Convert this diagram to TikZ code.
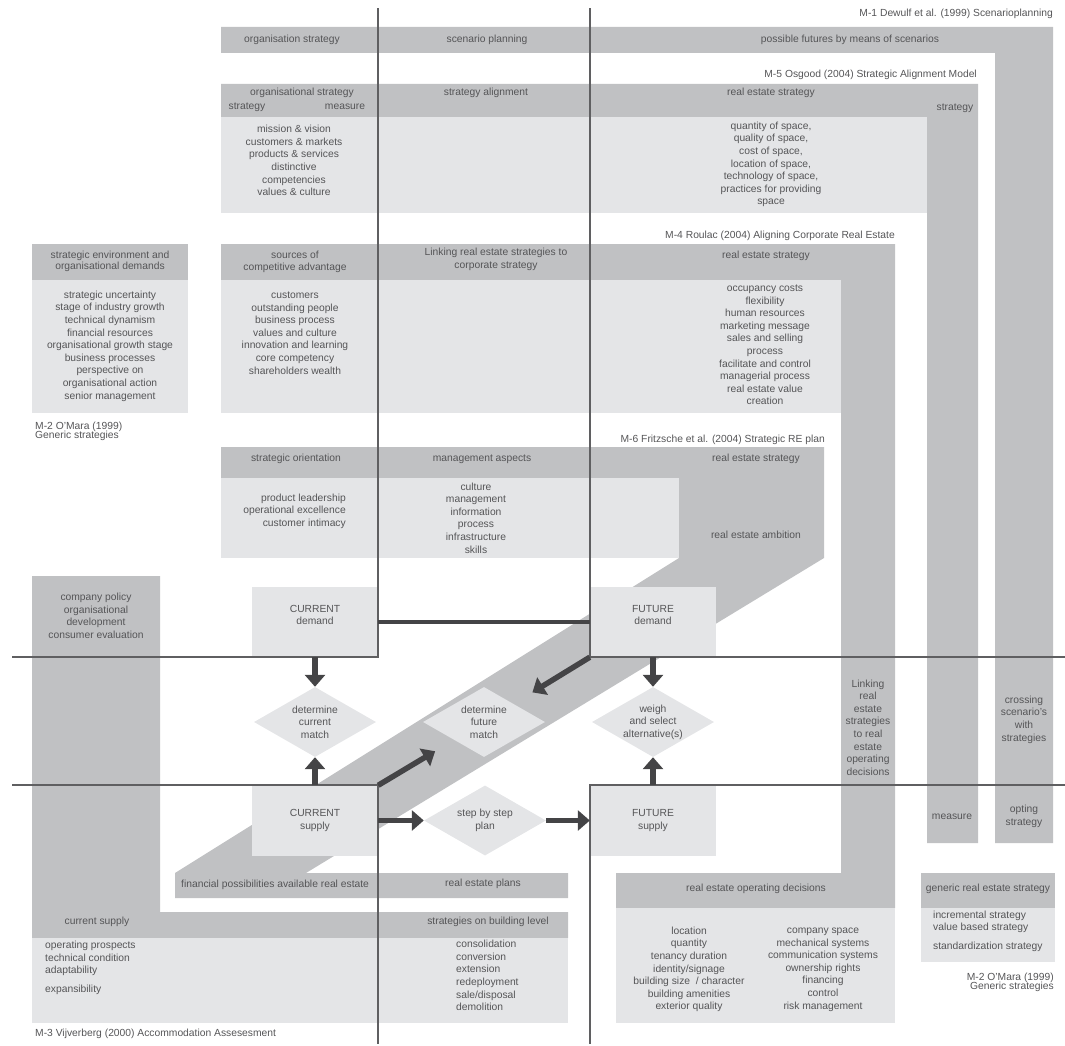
\documentclass[tikz,border=0pt]{standalone}
\usepackage{fontspec}
\setmainfont{Liberation Sans}
\usepackage{tikz}
\usetikzlibrary{arrows.meta,shapes.geometric,positioning}
\definecolor{bandgrey}{RGB}{192,193,195}
\definecolor{panegrey}{RGB}{228,229,231}
\definecolor{inkgrey}{RGB}{85,85,87}
\definecolor{rulegrey}{RGB}{95,95,97}
\definecolor{arrowgrey}{RGB}{68,68,70}
\newcommand{\citefont}{\fontsize{10.3}{9}\selectfont\lineskiplimit -6pt\relax}

\begin{document}
\begin{tikzpicture}[x=1pt, y=-1pt, band/.style={fill=bandgrey}, pane/.style={fill=panegrey},
        txt/.style={text=inkgrey, inner sep=0pt, align=center, font=\fontsize{10.3}{12.6}\selectfont},
        snug/.style={txt, font=\fontsize{10.3}{10.8}\selectfont},
        cite/.style={txt, align=left, font=\citefont},
        box/.style={txt, fill=panegrey, minimum width=126pt, minimum height=70pt},
        demandbox/.style={box, text depth=14pt},
        decide/.style={txt, diamond, aspect=1.74, fill=panegrey, minimum width=122pt, minimum height=70pt},
        divider/.style={draw=rulegrey, line width=1.2pt},
        link/.style={draw=arrowgrey, line width=4.5pt},
        flow/.style={draw=arrowgrey, line width=5.5pt, -{Triangle[width=20pt,length=12pt]}}]

        \useasboundingbox (0,0) rectangle (1065,1046);

        \fill[band] (221,27) -- (1053,27) -- (1053,843) -- (995,843) -- (995,53) -- (221,53) -- cycle;
        \fill[band] (221,84) -- (978,84) -- (978,843) -- (927,843) -- (927,117) -- (221,117) -- cycle;
        \fill[pane] (221,117) rectangle (927,213);
        \fill[band] (221,244) -- (895,244) -- (895,908) -- (616,908) -- (616,873) -- (841,873) -- (841,280) -- (221,280) -- cycle;
        \fill[pane] (221,280) rectangle (841,413);
        \fill[pane] (616,908) rectangle (895,1023);
        \fill[band] (32,244) rectangle (188,280);
        \fill[pane] (32,280) rectangle (188,413);
        \fill[band] (921,873) rectangle (1055,908);
        \fill[pane] (921,908) rectangle (1055,962);
        \fill[band] (221,447) -- (824,447) -- (824,558) -- (306,873) -- (568,873) -- (568,898) -- (175,898)
            -- (175,873) -- (679,558) -- (679,478) -- (221,478) -- cycle;
        \fill[pane] (221,478) rectangle (679,558);
        \fill[band] (32,576) -- (160,576) -- (160,912) -- (568,912) -- (568,938) -- (32,938) -- cycle;
        \fill[pane] (32,938) rectangle (568,1023);

        \node[demandbox] (curdem) at (315,622) {CURRENT\\demand};
        \node[demandbox] (futdem) at (653,622) {FUTURE\\demand};
        \node[box] (cursup) at (315,820.5) {CURRENT\\supply};
        \node[box] (futsup) at (653,820.5) {FUTURE\\supply};
        \node[decide] (curmatch) at (315,722) {determine\\current\\match};
        \node[decide] (futmatch) at (484,722) {determine\\future\\match};
        \node[decide] (weigh) at (653,722) {weigh\\and select\\alternative(s)};
        \node[decide] (stepplan) at (485,820.5) {step by step\\plan};

        \draw[divider] (12,657) -- (378,657) -- (378,8);
        \draw[divider] (1065,657) -- (590,657) -- (590,8);
        \draw[divider] (12,785) -- (378,785) -- (378,1044);
        \draw[divider] (1065,785) -- (590,785) -- (590,1044);

        \draw[link] (curdem) -- (futdem);
        \draw[flow] (curdem) -- (curmatch);
        \draw[flow] (cursup) -- (curmatch);
        \draw[flow] (futdem) -- (weigh);
        \draw[flow] (futsup) -- (weigh);
        \draw[flow] (cursup) -- (stepplan);
        \draw[flow] (stepplan) -- (futsup);
        \draw[flow, shorten >=22pt] (cursup.north east) -- (futmatch);
        \draw[flow, shorten >=22pt] (futdem.south west) -- (futmatch);

        \node[txt, anchor=east] (dewulf) at (1053,14) {M-1 Dewulf et al. (1999) Scenarioplanning};
        \node[txt] (orgstrat) at (292,40) {organisation strategy};
        \node[txt] (scenplan) at (487,40) {scenario planning};
        \node[txt] (futures) at (850,40) {possible futures by means of scenarios};

        \node[txt, anchor=east] (osgood) at (977,75) {M-5 Osgood (2004) Strategic Alignment Model};
        \node[txt] (orgstrathead) at (302,93) {organisational strategy};
        \node[txt] (stratleft) at (247,107) {strategy};
        \node[txt] (measuretop) at (345,107) {measure};
        \node[txt] (alignment) at (486,93) {strategy alignment};
        \node[txt] (restratosg) at (771,93) {real estate strategy};
        \node[txt] (stratleg) at (955,108) {strategy};
        \node[txt] (missionlist) at (294,160.5) {mission \& vision\\customers \& markets\\products \& services\\distinctive\\competencies\\values \& culture};
        \node[txt] (spacelist) at (771,164.5) {quantity of space,\\quality of space,\\cost of space,\\location of space,\\technology of space,\\practices for providing\\space};

        \node[txt, anchor=east] (roulac) at (895,236) {M-4 Roulac (2004) Aligning Corporate Real Estate};
        \node[txt] (sources) at (295,262) {sources of\\competitive advantage};
        \node[txt] (linkcorp) at (496,259.5) {Linking real estate strategies to\\corporate strategy};
        \node[txt] (restratrou) at (766,256) {real estate strategy};
        \node[txt] (advlist) at (295,333) {customers\\outstanding people\\business process\\values and culture\\innovation and learning\\core competency\\shareholders wealth};
        \node[txt] (costlist) at (765,345) {occupancy costs\\flexibility\\human resources\\marketing message\\sales and selling\\process\\facilitate and control\\managerial process\\real estate value\\creation};

        \node[snug] (envhead) at (110,261) {strategic environment and\\organisational demands};
        \node[txt] (envlist) at (110,346) {strategic uncertainty\\stage of industry growth\\technical dynamism\\financial resources\\organisational growth stage\\business processes\\perspective on\\organisational action\\senior management};
        \node[cite, anchor=west] (omaratop) at (35,431) {M-2 O'Mara (1999)\\Generic strategies};

        \node[txt, anchor=east] (fritzsche) at (825,440) {M-6 Fritzsche et al. (2004) Strategic RE plan};
        \node[txt] (orientation) at (296,459) {strategic orientation};
        \node[txt] (aspects) at (482,459) {management aspects};
        \node[txt] (restratfri) at (756,459) {real estate strategy};
        \node[txt, align=right, anchor=east] (orientlist) at (346,511) {product leadership\\operational excellence\\customer intimacy};
        \node[txt] (aspectlist) at (476,518) {culture\\management\\information\\process\\infrastructure\\skills};
        \node[txt] (ambition) at (756,535) {real estate ambition};

        \node[txt] (policy) at (96,616) {company policy\\organisational\\development\\consumer evaluation};
        \node[txt] (linkoper) at (868,727.5) {Linking\\real\\estate\\strategies\\to real\\estate\\operating\\decisions};
        \node[txt] (crossing) at (1024,719.5) {crossing\\scenario's\\with\\strategies};
        \node[txt] (measureleg) at (952,817) {measure};
        \node[txt] (opting) at (1024,816.5) {opting\\strategy};

        \node[txt, anchor=west] (financial) at (181,885) {financial possibilities available real estate};
        \node[txt] (replans) at (483,884) {real estate plans};
        \node[txt] (operdec) at (756,889) {real estate operating decisions};
        \node[txt] (generic) at (988,889) {generic real estate strategy};
        \node[txt] (cursupply) at (97,922) {current supply};
        \node[txt] (buildlevel) at (488,922) {strategies on building level};

        \node[txt, align=left, anchor=west] (prospects) at (45,968) {operating prospects\\technical condition\\adaptability\\[6pt]expansibility};
        \node[txt, align=left, anchor=west] (buildlist) at (456,975.5) {consolidation\\conversion\\extension\\redeployment\\sale/disposal\\demolition};
        \node[txt] (oplistleft) at (689,969.5) {location\\quantity\\tenancy duration\\identity/signage\\building size~ / character\\building amenities\\exterior quality};
        \node[txt] (oplistright) at (823,969.5) {company space\\mechanical systems\\communication systems\\ownership rights\\financing\\control\\risk management};
        \node[txt, align=left, anchor=west] (genericlist) at (933,931) {incremental strategy\\value based strategy\\[6pt]standardization strategy};
        \node[cite, align=right, anchor=east] (omarabottom) at (1054,982) {M-2 O'Mara (1999)\\Generic strategies};
        \node[txt, anchor=west] (vijverberg) at (35,1034) {M-3 Vijverberg (2000) Accommodation Assesesment};

    \end{tikzpicture}
\end{document}
